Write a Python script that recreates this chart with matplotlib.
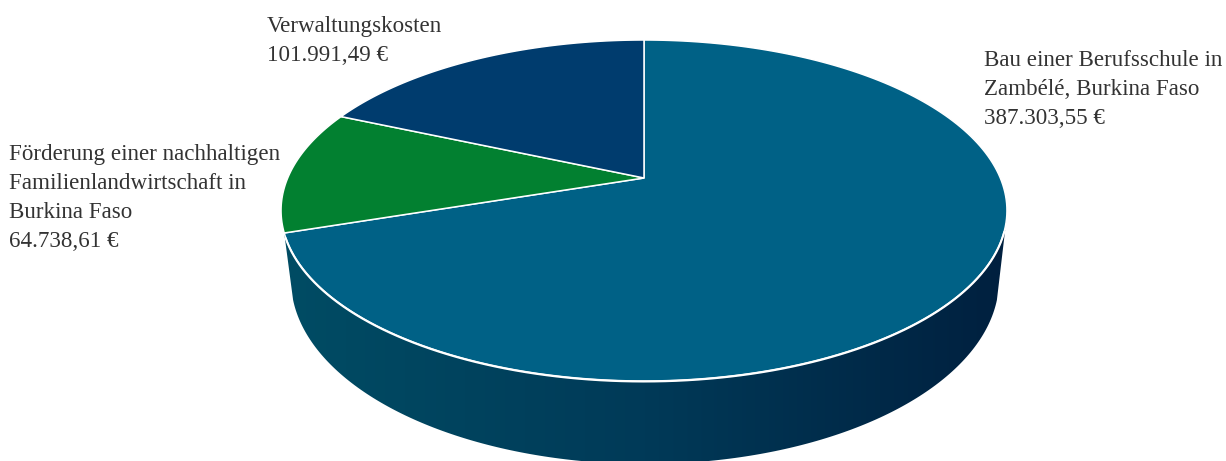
import numpy as np
import matplotlib
matplotlib.use("Agg")
import matplotlib.pyplot as plt
from matplotlib.colors import LinearSegmentedColormap
from matplotlib.patches import Polygon

# Values of the pie, clockwise from 12 o'clock
labels = [
    ["Bau einer Berufsschule in", "Zambélé, Burkina Faso", "387.303,55 €"],
    ["Förderung einer nachhaltigen", "Familienlandwirtschaft in", "Burkina Faso", "64.738,61 €"],
    ["Verwaltungskosten", "101.991,49 €"],
]
values = [387303.55, 64738.61, 101991.49]
colors = ["#006186", "#028030", "#003c6e"]
label_pos = [(984, 66), (9, 160), (267, 32)]

# Perspective of the top face: unit circle to pixels
apex_x, apex_y = 644, 178
a, b, k = 356.3, 164.3, 0.1906

def project(theta):
    u = np.sin(theta)
    v = np.cos(theta)
    d = 1 + k * v
    return apex_x + a * u / d, apex_y - b * v / d

fig = plt.figure(figsize=(12.26, 4.61), dpi=100)
ax = fig.add_axes([0, 0, 1, 1])
ax.set_xlim(0, 1226)
ax.set_ylim(461, 0)
ax.axis("off")

# Side of the cylinder, a horizontal gradient clipped to the outline
# the bottom curve starts at y=300, above that the side runs straight up to the rim
t = np.linspace(0.109, np.pi - 0.109, 200)
bx = 645 - 354 * np.cos(t)
by = 280 + 184 * np.sin(t)
rim = np.linspace(np.radians(251.7), np.radians(105), 200)
rx, ry = project(rim)
outline = np.column_stack([np.r_[rx, bx[::-1]], np.r_[ry, by[::-1]]])
side_cmap = LinearSegmentedColormap.from_list("side", ["#004c64", "#003a58", "#00203f"])
grad = ax.imshow(np.linspace(0, 1, 256).reshape(1, -1), cmap=side_cmap, aspect="auto",
                 extent=[284, 1006, 466, 230], zorder=1)
clip = Polygon(outline, transform=ax.transData, closed=True, fc="none", ec="none")
ax.add_patch(clip)
grad.set_clip_path(clip)
ax.set_xlim(0, 1226)
ax.set_ylim(461, 0)

# Top face
angles = np.r_[0, np.cumsum(values)] / np.sum(values) * 2 * np.pi
for i in range(len(values)):
    th = np.linspace(angles[i], angles[i + 1], 200)
    x, y = project(th)
    ax.fill(np.r_[apex_x, x], np.r_[apex_y, y], color=colors[i], ec="white", lw=1.1, zorder=2)

# thicker white line along the front rim
front = np.linspace(np.radians(250), np.radians(108), 200)
fx, fy = project(front)
ax.plot(fx, fy + 0.5, color="white", lw=1.5, zorder=3)

# Labels
for lines, (x, y) in zip(labels, label_pos):
    for n, line in enumerate(lines):
        ax.text(x, y + n * 29, line, family="Liberation Serif", fontsize=16.6, color="#333333",
                ha="left", va="baseline")

fig.savefig("out.png", dpi=100)
